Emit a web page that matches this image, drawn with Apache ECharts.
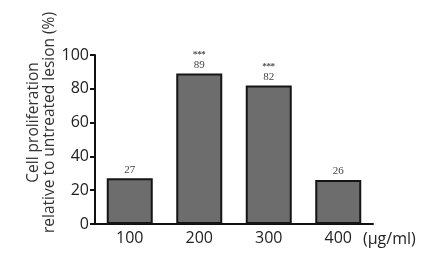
<!DOCTYPE html>
<html><head><meta charset="utf-8">
<script src="https://cdn.jsdelivr.net/npm/echarts@6/dist/echarts.min.js"></script>
<style>html,body{margin:0;padding:0;background:#fff}#c{width:431px;height:254px}</style>
</head><body><div id="c"></div>
<script>
const categories = ["100", "200", "300", "400"];
const values = [27, 89, 82, 26];
const stars = ["", "***", "***", ""];
const yTicks = [0, 20, 40, 60, 80, 100];

const chart = echarts.init(document.getElementById('c'), null, {renderer: 'canvas'});
chart.setOption({
  animation: false,
  backgroundColor: '#fff',
  grid: {left: 95, right: 58, top: 55, bottom: 30, containLabel: false, outerBoundsMode: 'none'},
  xAxis: {
    type: 'category',
    data: categories,
    axisLine: {lineStyle: {color: '#111', width: 2}},
    axisTick: {alignWithLabel: true, length: 5, lineStyle: {color: '#111', width: 2}},
    axisLabel: {fontFamily: 'Open Sans', fontSize: 16, color: '#222', margin: 6},
    name: '(\u00b5g/ml)',
    nameLocation: 'end',
    nameGap: -10,
    nameTextStyle: {fontFamily: 'Open Sans', fontSize: 16, color: '#222', align: 'left', verticalAlign: 'top', padding: [7, 0, 0, 0]}
  },
  yAxis: {
    type: 'value',
    min: yTicks[0], max: yTicks[yTicks.length - 1], interval: 20,
    splitLine: {show: false},
    axisLine: {show: true, lineStyle: {color: '#111', width: 2}},
    axisTick: {show: true, length: 5, lineStyle: {color: '#111', width: 2}},
    axisLabel: {fontFamily: 'Open Sans', fontSize: 16, color: '#222', margin: 6},
    name: 'Cell proliferation\nrelative to untreated lesion (%)',
    nameLocation: 'middle',
    nameGap: 37,
    nameMoveOverlap: false,
    nameTextStyle: {fontFamily: 'Open Sans', fontSize: 15.5, color: '#333', lineHeight: 16, padding: [0, 0, 0, 34]}
  },
  series: [{
    type: 'bar',
    data: values,
    barWidth: 46,
    itemStyle: {color: '#6d6d6d', borderColor: '#151515', borderWidth: 2},
    label: {
      show: true,
      position: 'top',
      distance: 3,
      formatter: p => (stars[p.dataIndex] ? '{s|' + stars[p.dataIndex] + '}\n' : '') + '{v|' + p.value + '}',
      rich: {
        s: {fontFamily: 'DejaVu Serif', fontSize: 8, color: '#333', lineHeight: 11, fontWeight: 'bold'},
        v: {fontFamily: 'Liberation Serif', fontSize: 11, color: '#444', lineHeight: 11}
      }
    }
  }]
});
</script></body></html>
